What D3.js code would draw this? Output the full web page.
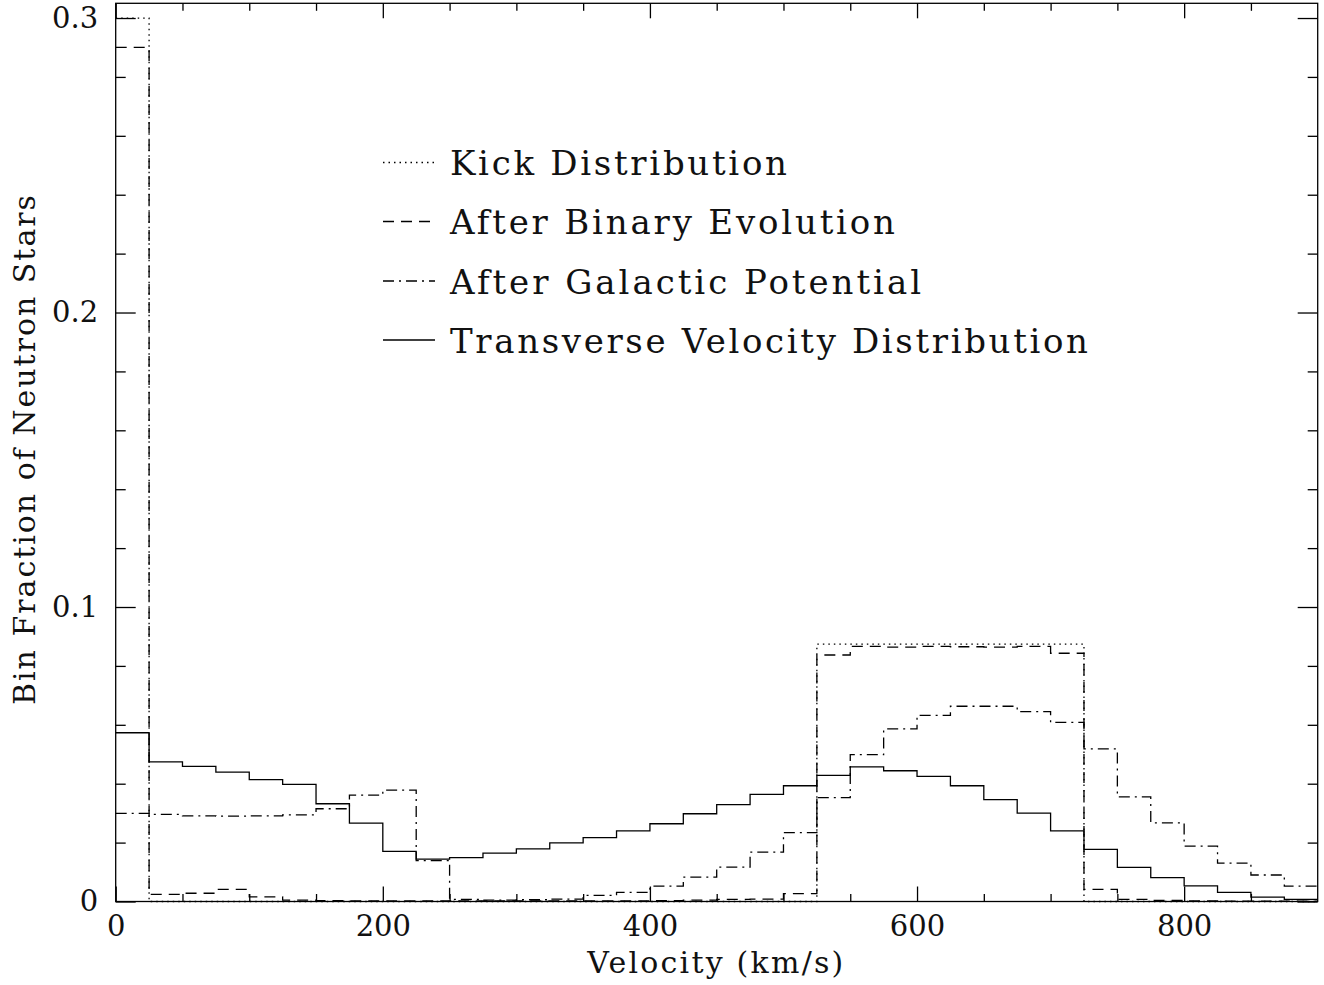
<!doctype html>
<html lang="en">

<head>
    <meta charset="utf-8">
    <script src="https://d3js.org/d3.v7.min.js"></script>
    <style>
        body { margin: 0; background: #fff; }
        text { font-family: "DejaVu Serif", "Liberation Serif", serif; fill: #111; }
    </style>
</head>

<body>
    <div id="chart"></div>

    <script>
        // bin left edges (km/s), bins are 25 km/s wide
        var binStart = [0, 25, 50, 75, 100, 125, 150, 175, 200, 225, 250, 275, 300, 325, 350, 375, 400, 425,
            450, 475, 500, 525, 550, 575, 600, 625, 650, 675, 700, 725, 750, 775, 800, 825, 850, 875];
        var binEnd = 900;

        var kickDist = [0.300, 0, 0, 0, 0, 0, 0, 0, 0, 0, 0, 0, 0, 0, 0, 0, 0, 0,
            0, 0, 0, 0.0874, 0.0874, 0.0874, 0.0874, 0.0874, 0.0874, 0.0874, 0.0874, 0, 0, 0, 0, 0, 0, 0];

        var binaryEvol = [0.290, 0.0024, 0.0028, 0.0041, 0.0016, 0.0005, 0.0003, 0.0002, 0.0002, 0.0002, 0.0002, 0.0002, 0.0002, 0.0002, 0.0002, 0.0002, 0.0003, 0.0005,
            0.0007, 0.0008, 0.0027, 0.0837, 0.0866, 0.0864, 0.0866, 0.0865, 0.0864, 0.0866, 0.0843, 0.0041, 0.0007, 0.0004, 0.0002, 0.0001, 0.0001, 0.0001];

        var galacticPot = [0.0299, 0.0296, 0.0291, 0.0290, 0.0291, 0.0294, 0.0315, 0.0361, 0.0378, 0.0139, 0.0007, 0.0005, 0.0006, 0.0008, 0.0021, 0.0031, 0.0052, 0.0083,
            0.0117, 0.0168, 0.0234, 0.0353, 0.0499, 0.0586, 0.0632, 0.0663, 0.0663, 0.0645, 0.0608, 0.0518, 0.0355, 0.0267, 0.0188, 0.0130, 0.0090, 0.0052];

        var transverse = [0.0573, 0.0474, 0.0459, 0.0439, 0.0414, 0.0398, 0.0332, 0.0266, 0.0170, 0.0144, 0.0149, 0.0164, 0.0179, 0.0199, 0.0217, 0.0240, 0.0264, 0.0298,
            0.0329, 0.0364, 0.0393, 0.0428, 0.0457, 0.0444, 0.0425, 0.0393, 0.0346, 0.0300, 0.0240, 0.0177, 0.0116, 0.0081, 0.0053, 0.0031, 0.0015, 0.0007];

        var seriesNames = ["Kick Distribution", "After Binary Evolution", "After Galactic Potential", "Transverse Velocity Distribution"];
        var seriesValues = [kickDist, binaryEvol, galacticPot, transverse];
        var seriesDash = ["1.5,4", "11,7", "11,5,2,5", null];

        var xMajorTicks = [0, 200, 400, 600, 800];
        var xTickLabels = ["0", "200", "400", "600", "800"];
        var xMinorTicks = [50, 100, 150, 250, 300, 350, 450, 500, 550, 650, 700, 750, 850];
        var yMajorTicks = [0, 0.1, 0.2, 0.3];
        var yTickLabels = ["0", "0.1", "0.2", "0.3"];
        var yMinorTicks = [0.02, 0.04, 0.06, 0.08, 0.12, 0.14, 0.16, 0.18, 0.22, 0.24, 0.26, 0.28];

        var width = 1324, height = 985;
        var plotL = 115.7, plotR = 1317.7, plotT = 3.3, plotB = 901.5;

        var svg = d3.select("#chart").append("svg")
            .attr("width", width)
            .attr("height", height);

        var xScale = d3.scaleLinear().domain([0, 900]).range([plotL, plotR]);
        var yScale = d3.scaleLinear().domain([0, 0.305]).range([plotB, plotT]);

        // histogram step lines
        var stepLine = d3.line()
            .x(d => xScale(d[0]))
            .y(d => yScale(d[1]))
            .curve(d3.curveStepAfter);

        seriesValues.forEach(function (vals, i) {
            var pts = binStart.map((b, j) => [b, vals[j]]);
            pts.push([binEnd, vals[vals.length - 1]]);
            svg.append("path")
                .attr("d", stepLine(pts))
                .attr("fill", "none")
                .attr("stroke", "#000")
                .attr("stroke-width", 1.3)
                .attr("stroke-dasharray", seriesDash[i]);
        });

        // axes, ticks pointing inward on all four sides
        function addAxis(axis, transform, labels) {
            var g = svg.append("g").attr("transform", transform).call(axis);
            g.select(".domain").remove();
            g.selectAll("line").attr("stroke", "#000").attr("stroke-width", 1.3);
            g.selectAll("text").style("font-size", "29px").style("font-family", "DejaVu Serif").attr("fill", "#111");
            return g;
        }

        addAxis(d3.axisBottom(xScale).tickValues(xMajorTicks).tickSize(-15).tickPadding(13.5)
            .tickFormat((d, i) => xTickLabels[i]), `translate(0,${plotB})`);
        addAxis(d3.axisBottom(xScale).tickValues(xMinorTicks).tickSize(-7.5).tickFormat(""), `translate(0,${plotB})`);
        addAxis(d3.axisTop(xScale).tickValues(xMajorTicks).tickSize(-15).tickFormat(""), `translate(0,${plotT})`);
        addAxis(d3.axisTop(xScale).tickValues(xMinorTicks).tickSize(-7.5).tickFormat(""), `translate(0,${plotT})`);

        addAxis(d3.axisLeft(yScale).tickValues(yMajorTicks).tickSize(-20).tickPadding(17.5)
            .tickFormat((d, i) => yTickLabels[i]), `translate(${plotL},0)`);
        addAxis(d3.axisLeft(yScale).tickValues(yMinorTicks).tickSize(-10).tickFormat(""), `translate(${plotL},0)`);
        addAxis(d3.axisRight(yScale).tickValues(yMajorTicks).tickSize(-20).tickFormat(""), `translate(${plotR},0)`);
        addAxis(d3.axisRight(yScale).tickValues(yMinorTicks).tickSize(-10).tickFormat(""), `translate(${plotR},0)`);

        // frame
        svg.append("rect")
            .attr("x", plotL).attr("y", plotT)
            .attr("width", plotR - plotL).attr("height", plotB - plotT)
            .attr("fill", "none")
            .attr("stroke", "#000")
            .attr("stroke-width", 1.3);

        // axis titles
        svg.append("text")
            .attr("x", 715.3).attr("y", 973)
            .attr("text-anchor", "middle")
            .attr("textLength", 256).attr("lengthAdjust", "spacing")
            .style("font-size", "30px")
            .text("Velocity (km/s)");

        svg.append("text")
            .attr("transform", "translate(35,450) rotate(-90)")
            .attr("text-anchor", "middle")
            .attr("textLength", 510).attr("lengthAdjust", "spacing")
            .style("font-size", "30px")
            .text("Bin Fraction of Neutron Stars");

        // legend
        var legendBase = [175, 234, 293.5, 352.5];
        var legendWidths = [337, 445, 471, 638];
        seriesNames.forEach(function (name, i) {
            var cy = legendBase[i] - 12.5;
            svg.append("line")
                .attr("x1", 383).attr("x2", 435)
                .attr("y1", cy).attr("y2", cy)
                .attr("stroke", "#000")
                .attr("stroke-width", 1.3)
                .attr("stroke-dasharray", seriesDash[i]);
            svg.append("text")
                .attr("x", 450).attr("y", legendBase[i])
                .attr("textLength", legendWidths[i]).attr("lengthAdjust", "spacing")
                .style("font-size", "34px")
                .text(name);
        });
    </script>
</body>

</html>
